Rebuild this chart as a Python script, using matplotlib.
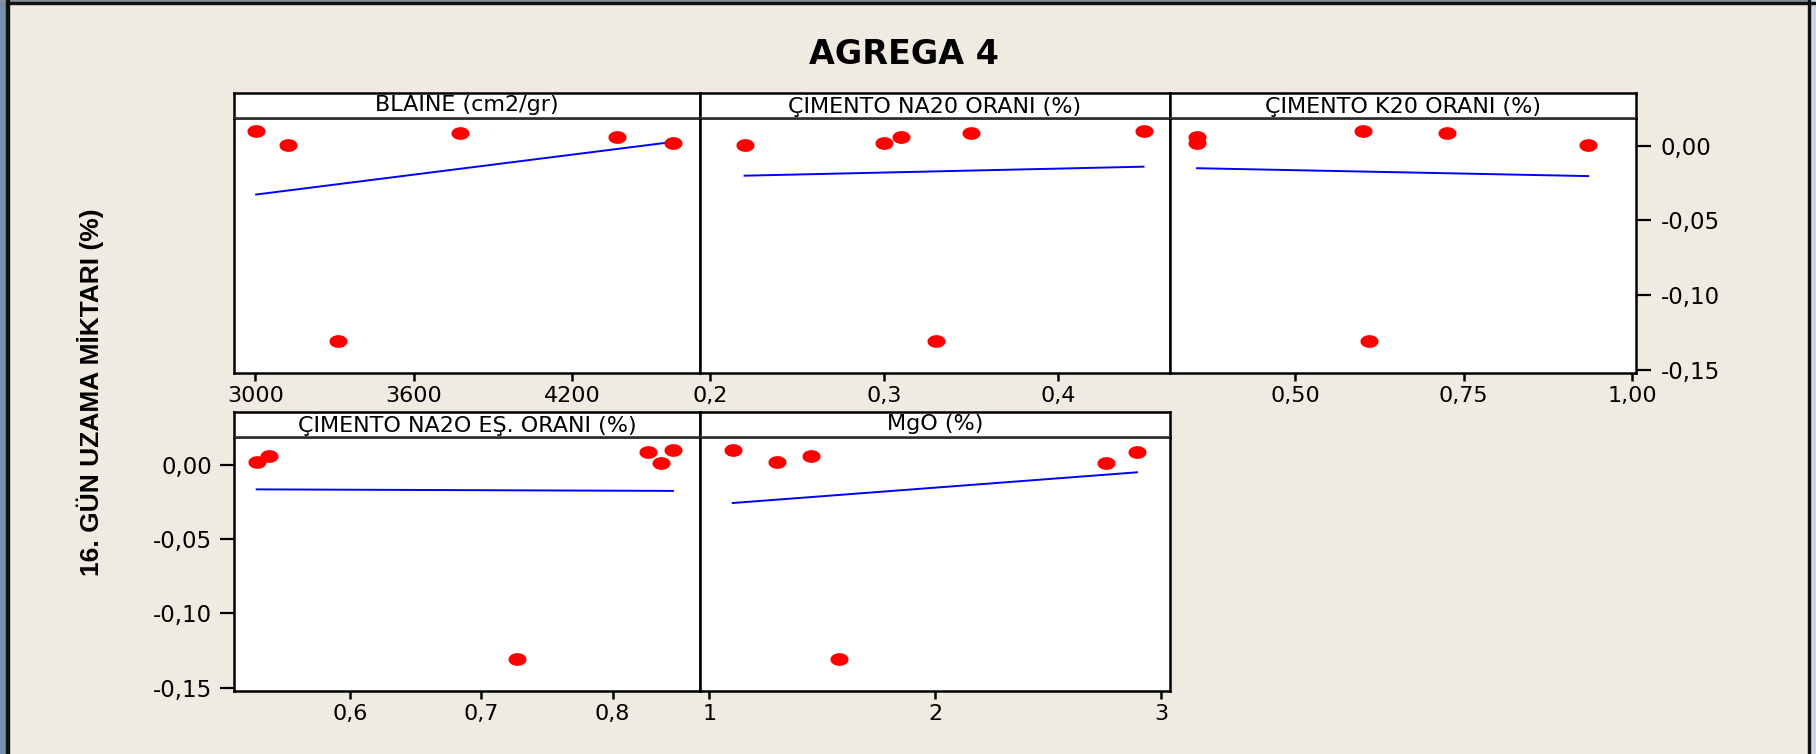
import numpy as np
import matplotlib
matplotlib.use("Agg")
import matplotlib.pyplot as plt
from matplotlib.path import Path
from matplotlib.patches import Rectangle

# 16-day expansion (%) of the six specimens, same order in every panel
uzama = [0.0100, 0.0008, 0.0088, 0.0060, 0.0020, -0.1310]

# predictor values of the same six specimens
blaine = [3003, 3122, 3776, 4370, 4584, 3313]
na2o = [0.449, 0.220, 0.350, 0.310, 0.300, 0.330]
k2o = [0.600, 0.935, 0.726, 0.354, 0.354, 0.610]
na2o_es = [0.846, 0.837, 0.827, 0.5385, 0.529, 0.727]
mgo = [1.104, 2.756, 2.894, 1.450, 1.298, 1.574]

titles = ["BLAINE (cm2/gr)", "ÇİMENTO NA20 ORANI (%)", "ÇİMENTO K20 ORANI (%)",
          "ÇİMENTO NA2O EŞ. ORANI (%)", "MgO (%)"]

xticks = [[3000, 3600, 4200], [0.2, 0.3, 0.4], [0.50, 0.75, 1.00],
          [0.6, 0.7, 0.8], [1, 2, 3]]
xticklabels = [["3000", "3600", "4200"], ["0,2", "0,3", "0,4"],
               ["0,50", "0,75", "1,00"], ["0,6", "0,7", "0,8"], ["1", "2", "3"]]
xlims = [(2919, 4686), (0.1944, 0.4642), (0.314, 1.006), (0.5117, 0.8666), (0.959, 3.04)]

yticks = [0.00, -0.05, -0.10, -0.15]
yticklabels = ["0,00", "-0,05", "-0,10", "-0,15"]
ylim = (-0.1522, 0.0186)

W, H = 1816, 754
BG = "#efebe0"

fig = plt.figure(figsize=(W / 100, H / 100), dpi=100, facecolor=BG)


def rect(x0, y0, x1, y1):
    # pixel box (top-left origin) -> figure fraction
    return [x0 / W, 1 - y1 / H, (x1 - x0) / W, (y1 - y0) / H]


# window frame
fig.patches.append(Rectangle((0, 0), 6 / W, 1, transform=fig.transFigure,
                             color="#7a8fb0", zorder=0))
fig.patches.append(Rectangle((6 / W, 0), 2.5 / W, 1, transform=fig.transFigure,
                             color="#111111", zorder=1))
fig.patches.append(Rectangle((0, 1 - 1.5 / H), 1, 1.5 / H, transform=fig.transFigure,
                             color="#8a9098", zorder=0))
fig.patches.append(Rectangle((6 / W, 1 - 4 / H), 1, 2.5 / H, transform=fig.transFigure,
                             color="#111111", zorder=1))
fig.patches.append(Rectangle((1810 / W, 0), 6 / W, 1, transform=fig.transFigure,
                             color="#c8d4e3", zorder=0))
fig.patches.append(Rectangle((1807.5 / W, 0), 2.5 / W, 1, transform=fig.transFigure,
                             color="#111111", zorder=1))

# panel boxes in pixels: (left, right, strip top, plot top, plot bottom)
boxes = [(234, 700, 93, 118, 373), (700, 1170, 93, 118, 373), (1170, 1636, 93, 118, 373),
         (234, 700, 412, 437, 691), (700, 1170, 412, 437, 691)]
xdata = [blaine, na2o, k2o, na2o_es, mgo]

t = np.linspace(0, 2 * np.pi, 48)
dot = Path(np.column_stack([np.cos(t), 0.68 * np.sin(t)]), closed=True)

for i, (x0, x1, ys, yt, yb) in enumerate(boxes):
    ax = fig.add_axes(rect(x0, yt, x1, yb))
    ax.set_facecolor("white")
    x = np.array(xdata[i])
    y = np.array(uzama)
    ax.plot(x, y, linestyle="none", marker=dot, markersize=12,
            color="#ff0000", zorder=3)
    k, b = np.polyfit(x, y, 1)
    xs = np.array([x.min(), x.max()])
    ax.plot(xs, k * xs + b, color="#0000ff", lw=1.4, zorder=2)
    ax.set_xlim(xlims[i])
    ax.set_ylim(ylim)
    for s in ax.spines.values():
        s.set_linewidth(1.8)
        s.set_color("black")
    ax.set_xticks(xticks[i])
    ax.set_xticklabels(xticklabels[i])
    ax.tick_params(axis="x", direction="out", length=6, width=1.8,
                   labelsize=16, pad=3)
    if i == 2:
        ax.yaxis.tick_right()
        ax.set_yticks(yticks)
        ax.set_yticklabels(yticklabels)
        ax.tick_params(axis="y", direction="out", length=11, width=1.6,
                       labelsize=16.5, pad=7)
    elif i == 3:
        ax.set_yticks(yticks)
        ax.set_yticklabels(yticklabels)
        ax.tick_params(axis="y", direction="out", length=10, width=1.6,
                       labelsize=16.5, pad=6)
    else:
        ax.set_yticks([])

    sx = fig.add_axes(rect(x0, ys, x1, yt))
    sx.set_facecolor("white")
    sx.set_xticks([])
    sx.set_yticks([])
    for s in sx.spines.values():
        s.set_linewidth(1.8)
        s.set_color("black")
    sx.spines["bottom"].set_linewidth(1.2)
    sx.spines["bottom"].set_color("#333333")
    sx.text(0.5, 0.52, titles[i], ha="center", va="center", fontsize=16,
            transform=sx.transAxes)

fig.text(904 / W, 1 - 55 / H, "AGREGA 4", ha="center", va="center",
         fontsize=24, fontweight="bold")
fig.text(90 / W, 1 - 392 / H, "16. GÜN UZAMA MİKTARI (%)", ha="center", va="center",
         rotation=90, fontsize=19, fontweight="bold",
         family=["Liberation Sans", "DejaVu Sans"])

fig.savefig("out.png", dpi=100, facecolor=BG)
